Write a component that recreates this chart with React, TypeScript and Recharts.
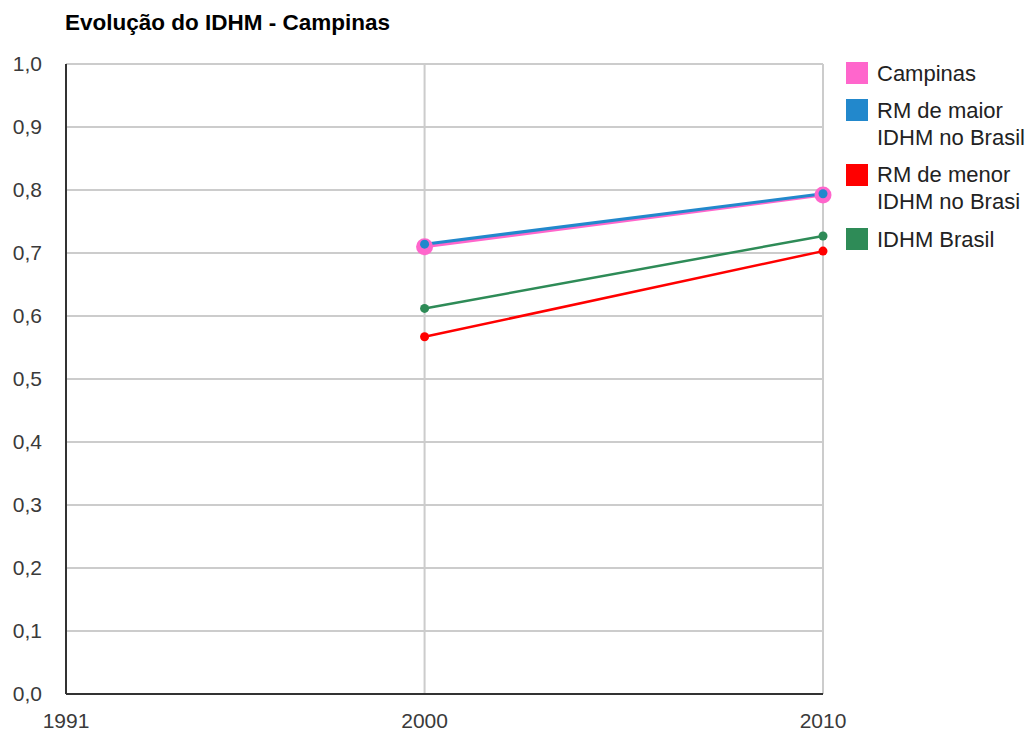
import React from "react";
import { LineChart, Line, XAxis, YAxis, CartesianGrid } from "recharts";

// values
const years = [1991, 2000, 2010];
const campinas = [null, 0.71, 0.792];
const rmMaior = [null, 0.714, 0.794];
const rmMenor = [null, 0.567, 0.703];
const idhmBrasil = [null, 0.612, 0.727];
const yTicks = [0, 0.1, 0.2, 0.3, 0.4, 0.5, 0.6, 0.7, 0.8, 0.9, 1.0];

const data = years.map((ano, i) => ({
  ano,
  campinas: campinas[i],
  rmMaior: rmMaior[i],
  rmMenor: rmMenor[i],
  brasil: idhmBrasil[i],
}));

const legendItems = [
  { color: "#ff66cc", lines: ["Campinas"] },
  { color: "#2288cc", lines: ["RM de maior", "IDHM no Brasil"] },
  { color: "#ff0000", lines: ["RM de menor", "IDHM no Brasi"] },
  { color: "#2e8b57", lines: ["IDHM Brasil"] },
];

const font = "'Liberation Sans', Arial, sans-serif";
const tickStyle = { fontSize: 21, fill: "#3a3a3a", fontFamily: font };

function Legenda() {
  let top = 62;
  return (
    <div style={{ position: "absolute", left: 846, top: 0, width: 182, height: 300 }}>
      {legendItems.map((item) => {
        const y = top;
        top += item.lines.length > 1 ? 64.5 : 37;
        return (
          <div key={item.color} style={{ position: "absolute", left: 0, top: y }}>
            <div style={{ position: "absolute", left: 0, top: 0, width: 22, height: 22, background: item.color }} />
            <div
              style={{
                position: "absolute",
                left: 31,
                top: -2.5,
                fontSize: 22,
                lineHeight: "27px",
                color: "#222",
                whiteSpace: "nowrap",
              }}
            >
              {item.lines.map((l) => (
                <div key={l}>{l}</div>
              ))}
            </div>
          </div>
        );
      })}
    </div>
  );
}

export default function App() {
  return (
    <div style={{ position: "absolute", left: 0, top: 0, width: 1028, height: 731, background: "#fff", fontFamily: font }}>
      <div style={{ position: "absolute", left: 65, top: 10, fontSize: 22.5, fontWeight: "bold", color: "#000" }}>
        Evolução do IDHM - Campinas
      </div>

      <LineChart width={1028} height={731} data={data} margin={{ top: 64, right: 205, bottom: 0, left: 0 }}>
        <CartesianGrid stroke="#cccccc" strokeWidth={2} />
        <XAxis
          dataKey="ano"
          type="number"
          domain={[1991, 2010]}
          ticks={years}
          height={37}
          tickSize={0}
          tickMargin={19}
          tickLine={false}
          axisLine={{ stroke: "#333", strokeWidth: 2 }}
          tick={tickStyle}
          interval={0}
        />
        <YAxis
          domain={[0, 1]}
          ticks={yTicks}
          width={66}
          tickSize={0}
          tickMargin={24}
          tickLine={false}
          axisLine={{ stroke: "#333", strokeWidth: 2 }}
          tick={tickStyle}
          tickFormatter={(v: number) => v.toFixed(1).replace(".", ",")}
          interval={0}
        />
        <Line
          dataKey="campinas"
          type="linear"
          stroke="#ff66cc"
          strokeWidth={3}
          dot={{ r: 8.5, fill: "#ff66cc", stroke: "none" }}
          activeDot={false}
          isAnimationActive={false}
        />
        <Line
          dataKey="rmMaior"
          type="linear"
          stroke="#2288cc"
          strokeWidth={3}
          dot={{ r: 4.5, fill: "#2288cc", stroke: "none" }}
          activeDot={false}
          isAnimationActive={false}
        />
        <Line
          dataKey="rmMenor"
          type="linear"
          stroke="#ff0000"
          strokeWidth={2.5}
          dot={{ r: 4.5, fill: "#ff0000", stroke: "none" }}
          activeDot={false}
          isAnimationActive={false}
        />
        <Line
          dataKey="brasil"
          type="linear"
          stroke="#2e8b57"
          strokeWidth={2.5}
          dot={{ r: 4.5, fill: "#2e8b57", stroke: "none" }}
          activeDot={false}
          isAnimationActive={false}
        />
      </LineChart>

      <Legenda />
    </div>
  );
}
